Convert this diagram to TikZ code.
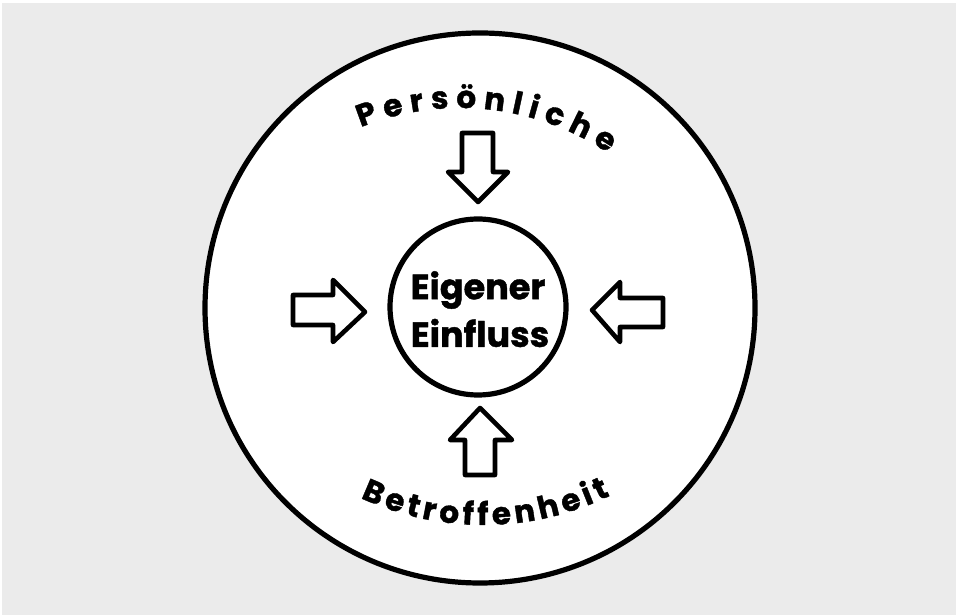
\documentclass[tikz,border=0pt]{standalone}
\usepackage{fontspec}
\usetikzlibrary{decorations.text}
\newfontfamily\handfont{Poppins}[BoldFeatures={FakeBold=1.2}]
\definecolor{bggrey}{HTML}{EBEBEB}
\tikzset{
  thickline/.style={line width=5.2pt, line join=round, line cap=round, draw=black},
  arrowshape/.style={thickline, line width=4.6pt, fill=white},
  centertext/.style={font=\handfont\bfseries\fontsize{35}{38}\selectfont, inner sep=0pt}
}
\begin{document}
\begin{tikzpicture}[x=1pt,y=1pt]
\useasboundingbox (0,0) rectangle (957,615);
\fill[white] (0,0) rectangle (957,615);
\fill[bggrey] (2,0) rectangle (956,612);
% big circle
\node[draw, thickline, fill=white, circle, minimum size=550pt, inner sep=0pt] (outer) at (480,307) {};
% inner circle
\node[draw, thickline, circle, minimum size=176pt, inner sep=0pt] (inner) at (478,308) {};
\node[centertext] (t1) at (478,325) {Eigener};
\node[centertext] (t2) at (480,282) {Einfluss};
% arrows
\draw[arrowshape] (293,320) -- (333,320) -- (333,335) -- (365,303) -- (333,273) -- (333,290) -- (293,290) -- cycle;
\draw[arrowshape] (592,305) -- (620,333) -- (620,317) -- (663,317) -- (663,288) -- (620,288) -- (620,273) -- cycle;
\draw[arrowshape] (462,482) -- (493,482) -- (493,443) -- (508,443) -- (478,413) -- (448,443) -- (462,443) -- cycle;
\draw[arrowshape] (480,207) -- (512,175) -- (495,175) -- (495,140) -- (465,140) -- (465,175) -- (450,175) -- cycle;
% curved labels
\path[decorate, decoration={text along path, text align=fit to path,
  text={|\handfont\bfseries\fontsize{31}{33}\selectfont|Persönliche}}]
  (460,242) ++(112:265) arc[start angle=112, end angle=56, radius=265];
\path[decorate, decoration={text along path, text align=fit to path,
  text={|\handfont\bfseries\fontsize{31}{33}\selectfont|Betroffenheit}}]
  (483,380) ++(245:290) arc[start angle=245, end angle=296, radius=290];
\end{tikzpicture}
\end{document}
